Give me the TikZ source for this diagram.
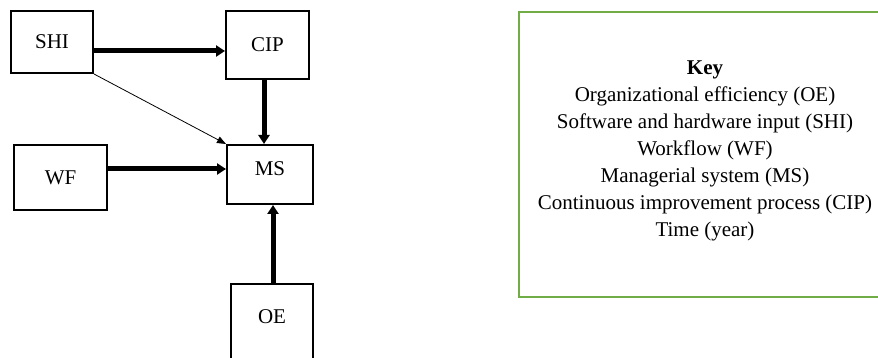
\documentclass[tikz,border=0pt]{standalone}
\usepackage{fontspec}
\setmainfont{Liberation Serif}
\usetikzlibrary{arrows.meta}
\definecolor{keygreen}{RGB}{112,173,71}
\tikzset{
  blockbox/.style={draw=black, line width=2pt, fill=white, inner sep=0pt,
    font=\fontsize{21}{25}\selectfont},
  heavyarrow/.style={line width=5pt, -{Triangle[length=9pt,width=11pt]}},
  lightarrow/.style={line width=0.8pt, -{Triangle[length=9pt,width=7pt]}},
  keyframe/.style={draw=keygreen, line width=2.5pt},
  keytext/.style={align=center, font=\fontsize{21}{27}\selectfont}
}
\begin{document}
\begin{tikzpicture}[x=1pt, y=-1pt]
\useasboundingbox (0,0) rectangle (878,358);
\clip (0,0) rectangle (878,358);

% variable blocks
\node[blockbox, minimum width=82pt, minimum height=62pt] (shi) at (52,42) {SHI};
\node[blockbox, minimum width=83pt, minimum height=68pt] (cip) at (267.5,45) {CIP};
\node[blockbox, minimum width=86pt, minimum height=59pt, text depth=12pt] (ms) at (270,174.5) {MS};
\node[blockbox, minimum width=93pt, minimum height=65pt] (wf) at (60.5,177.5) {WF};
\node[blockbox, minimum width=82pt, text height=39pt, text depth=50pt, anchor=north] (oe) at (272,283) {OE};

% causal links
\draw[heavyarrow] ([yshift=-9pt]shi.east) -- ([yshift=-9pt]shi.east -| cip.west);
\draw[heavyarrow] ([xshift=-3.5pt]cip.south) -- ([xshift=-3.5pt]cip.south |- ms.north);
\draw[heavyarrow] ([yshift=8.5pt]wf.east) -- ([yshift=8.5pt]wf.east -| ms.west);
\draw[heavyarrow] ([xshift=1pt]oe.north) -- ([xshift=1pt]oe.north |- ms.south);
\draw[lightarrow] (shi.south east) -- (ms.north west);

% legend
\draw[keyframe] (519,12) rectangle (892,297);
\node[keytext] (key) at (705,151) {\textbf{Key}\\
  Organizational efficiency (OE)\\
  Software and hardware input (SHI)\\
  Workflow (WF)\\
  Managerial system (MS)\\
  Continuous improvement process (CIP)\\
  Time (year)};
\end{tikzpicture}
\end{document}
